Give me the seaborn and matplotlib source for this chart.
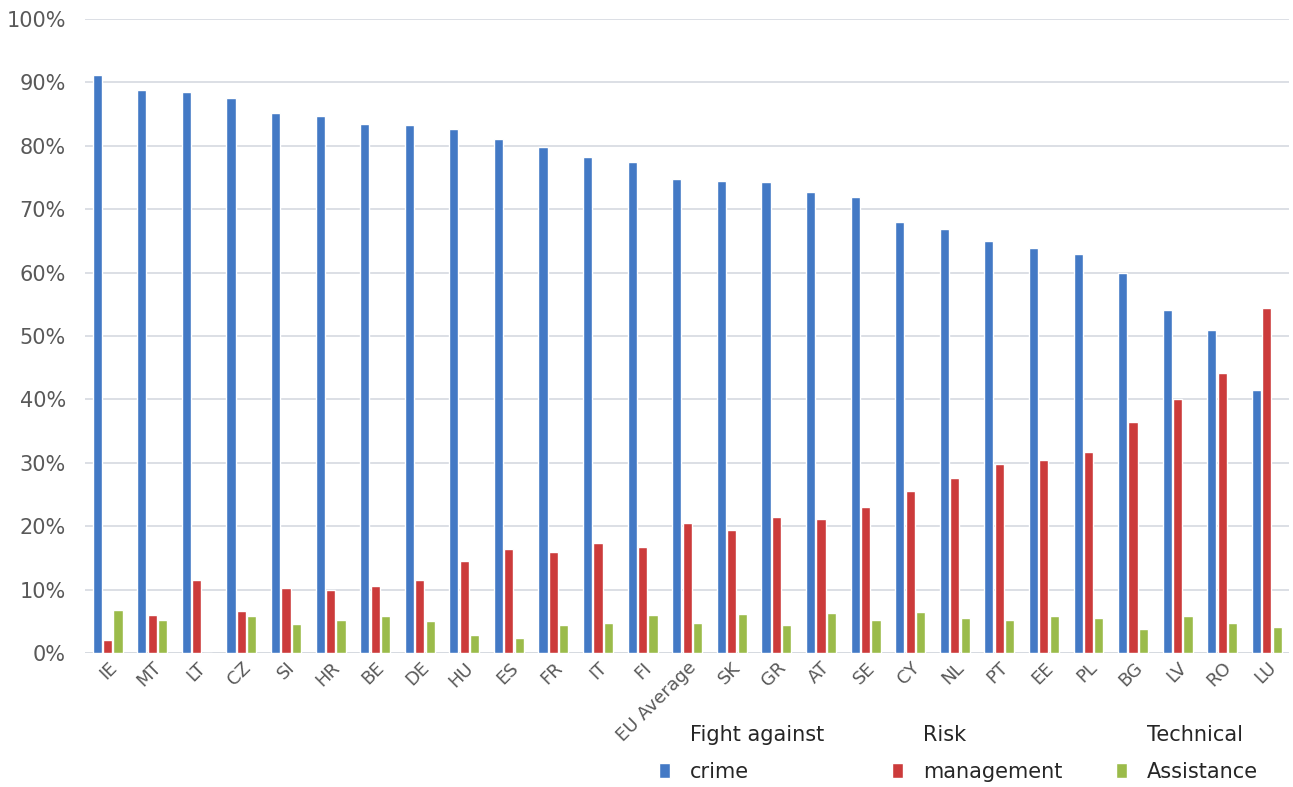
import matplotlib
matplotlib.use("Agg")
import matplotlib.pyplot as plt
import numpy as np
import pandas as pd
import seaborn as sns

# data (percent)
countries = ["IE", "MT", "LT", "CZ", "SI", "HR", "BE", "DE", "HU", "ES", "FR", "IT", "FI",
             "EU Average", "SK", "GR", "AT", "SE", "CY", "NL", "PT", "EE", "PL", "BG", "LV", "RO", "LU"]
fight_crime = [91.2, 88.8, 88.5, 87.5, 85.1, 84.7, 83.5, 83.2, 82.7, 81.1, 79.8, 78.2, 77.4,
               74.7, 74.5, 74.3, 72.7, 71.9, 68.0, 66.9, 65.0, 63.9, 63.0, 60.0, 54.1, 51.0, 41.5]
risk_mgmt = [2.1, 6.0, 11.5, 6.6, 10.3, 10.0, 10.6, 11.6, 14.5, 16.4, 16.0, 17.3, 16.7,
             20.6, 19.5, 21.5, 21.1, 23.0, 25.6, 27.6, 29.9, 30.5, 31.7, 36.4, 40.0, 44.2, 54.4]
tech_assist = [6.8, 5.3, 0.0, 5.9, 4.6, 5.3, 5.9, 5.1, 2.9, 2.4, 4.4, 4.7, 6.1,
               4.7, 6.2, 4.4, 6.4, 5.2, 6.5, 5.6, 5.3, 5.8, 5.5, 3.8, 5.9, 4.7, 4.2]
series_names = ["Fight against crime", "Risk management", "Technical Assistance"]
# legend labels wrap onto two lines in the original
label_top = ["Fight against", "Risk", "Technical"]
label_bottom = ["crime", "management", "Assistance"]

df = pd.DataFrame({"country": countries,
                   series_names[0]: fight_crime,
                   series_names[1]: risk_mgmt,
                   series_names[2]: tech_assist})
long_df = df.melt(id_vars="country", var_name="series", value_name="value")

sns.set_style("white")
text_col = "#595959"
colors = ["#4379C5", "#CC3B3B", "#9BBB4A"]
W, H = 1293, 787

fig = plt.figure(figsize=(W / 100, H / 100), dpi=100)
ax = fig.add_axes([0.066, 0.170, 0.931, 0.806])

sns.barplot(data=long_df, x="country", y="value", hue="series", palette=colors,
            width=0.70, gap=0.12, ax=ax, saturation=1)

ax.set_ylim(0, 100)
ax.set_xlim(-0.5, len(countries) - 0.5)
ax.set_yticks(np.arange(0, 101, 10))
ax.set_yticklabels([f"{v}%" for v in range(0, 101, 10)], fontsize=15, color=text_col)
ax.yaxis.grid(True, color="#D5D9E0", linewidth=1.2)
ax.set_axisbelow(True)
for s in ax.spines.values():
    s.set_visible(False)
ax.axhline(0, color="#D5D9E0", linewidth=1.2, zorder=0)
ax.tick_params(axis="y", length=0, pad=14)
ax.tick_params(axis="x", length=0, pad=4)
ax.set_xlabel("")
ax.set_ylabel("")
plt.setp(ax.get_xticklabels(), rotation=45, ha="right", rotation_mode="anchor",
         fontsize=13, color=text_col)

# legend: one entry per column, label split over two lines
ax.legend_.remove()
handles, labels = ax.get_legend_handles_labels()
legend_x = [659, 892, 1116]
for h, top, bottom, lx in zip(handles, label_top, label_bottom, legend_x):
    fig.legend([h], [bottom], loc="center left",
               bbox_to_anchor=(lx / W, 1 - 772 / H),
               frameon=False, fontsize=15, handlelength=0.55, handleheight=0.75,
               handletextpad=0.95, borderpad=0, borderaxespad=0,
               labelcolor="#262626")
    fig.text((lx + 31) / W, 1 - 735 / H, top, ha="left", va="center",
             fontsize=15, color="#262626")

fig.savefig("out.png", dpi=100)
